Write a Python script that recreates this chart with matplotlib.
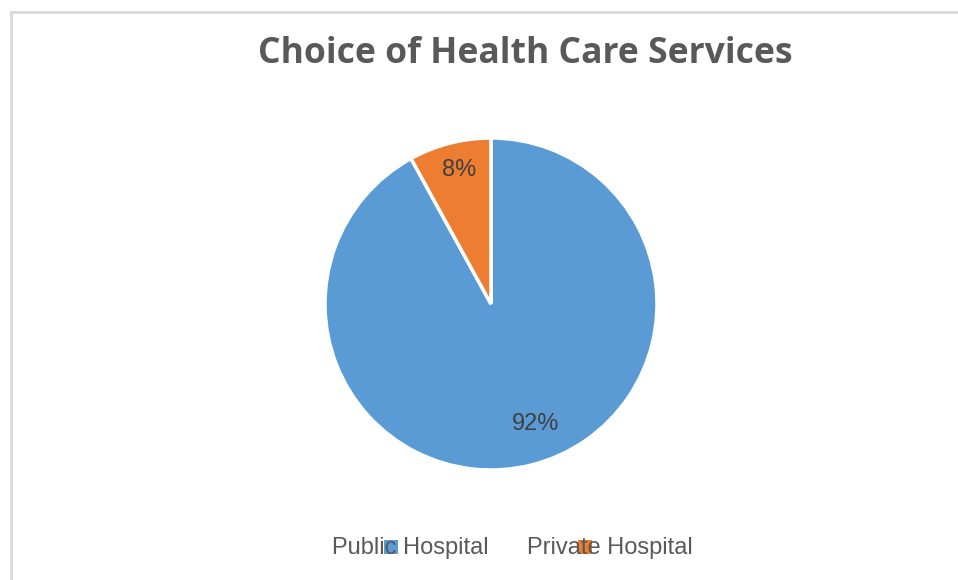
import matplotlib.pyplot as plt
from matplotlib.patches import Rectangle
from matplotlib.lines import Line2D

# data
labels = ["Public Hospital", "Private Hospital"]
shares = [92, 8]
colors = ["#5B9BD5", "#ED7D31"]

W, H = 958, 580
fig = plt.figure(figsize=(W / 100, H / 100), dpi=100)
fig.patch.set_facecolor("white")

# light border (left + top)
fig.add_artist(Line2D([10.5 / W, 10.5 / W], [0, 1 - 11.5 / H], transform=fig.transFigure,
                      color="#d9d9d9", lw=2))
fig.add_artist(Line2D([10.5 / W, 1], [1 - 11.5 / H, 1 - 11.5 / H], transform=fig.transFigure,
                      color="#d9d9d9", lw=2))

fig.text(525 / W, 1 - 54 / H, "Choice of Health Care Services", ha="center", va="center",
         fontsize=25.6, fontweight="bold", color="#595959", family=["Open Sans", "DejaVu Sans"])

# pie
cx, cy, r = 491, 304, 166
ax = fig.add_axes([(cx - r) / W, (H - cy - r) / H, 2 * r / W, 2 * r / H])
wedges, texts, autotexts = ax.pie(shares, colors=colors, startangle=90, counterclock=False,
                                  autopct="%d%%", pctdistance=0.8,
                                  wedgeprops=dict(edgecolor="white", linewidth=2.5),
                                  textprops=dict(fontsize=17, color="#404040",
                                                 family="Liberation Sans"))
ax.set_xlim(-1, 1)
ax.set_ylim(-1, 1)
# nudge the percentage labels to where the original has them
autotexts[0].set_position((0.27, -0.72))
autotexts[1].set_position((-0.19, 0.81))

# legend (text drawn over the markers, as in the original)
leg_y = 548
fig.text(332 / W, 1 - leg_y / H, labels[0], ha="left", va="center", fontsize=17,
         color="#595959", family="Liberation Sans", zorder=5)
fig.text(527 / W, 1 - leg_y / H, labels[1], ha="left", va="center", fontsize=17,
         color="#595959", family="Liberation Sans", zorder=5)
for x0, c in zip([384, 578], colors):
    fig.add_artist(Rectangle((x0 / W, 1 - 554 / H), 14 / W, 14 / H,
                             transform=fig.transFigure, facecolor=c, edgecolor="none",
                             zorder=1))

fig.savefig("out.png", dpi=100)
